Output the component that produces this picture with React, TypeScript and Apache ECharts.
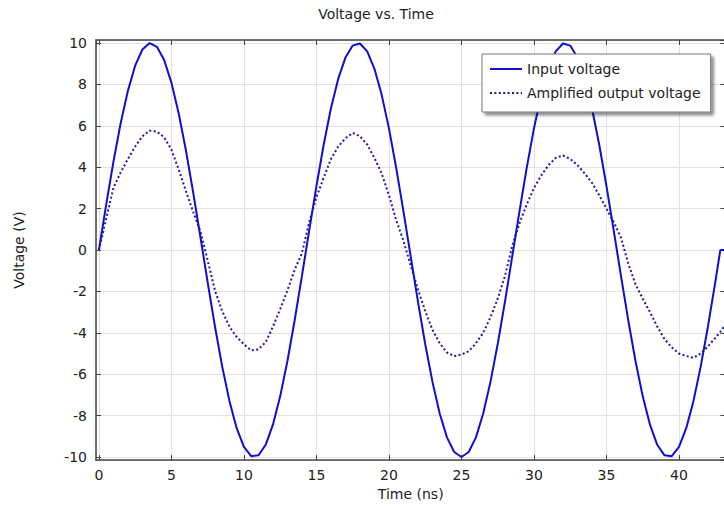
import React, { useEffect, useRef } from 'react';
import * as echarts from 'echarts';

const timeNs = [
  0, 0.5, 1, 1.5, 2, 2.5, 3, 3.5, 4, 4.5, 5, 5.5, 6, 6.5, 7, 7.5, 8, 8.5, 9, 9.5,
  10, 10.5, 11, 11.5, 12, 12.5, 13, 13.5, 14, 14.5, 15, 15.5, 16, 16.5, 17, 17.5, 18, 18.5, 19, 19.5,
  20, 20.5, 21, 21.5, 22, 22.5, 23, 23.5, 24, 24.5, 25, 25.5, 26, 26.5, 27, 27.5, 28, 28.5, 29, 29.5,
  30, 30.5, 31, 31.5, 32, 32.5, 33, 33.5, 34, 34.5, 35, 35.5, 36, 36.5, 37, 37.5, 38, 38.5, 39, 39.5,
  40, 40.5, 41, 41.5, 42, 42.5, 42.85, 43.2,
];

const inputVoltage = [
  0, 2.18, 4.26, 6.13, 7.7, 8.91, 9.69, 10.0, 9.82, 9.18, 8.09, 6.61, 4.82, 2.79, 0.63, -1.56, -3.68, -5.62, -7.29, -8.61,
  -9.51, -9.96, -9.92, -9.41, -8.44, -7.07, -5.36, -3.39, -1.25, 0.94, 3.09, 5.09, 6.85, 8.27, 9.3, 9.88, 9.98, 9.6, 8.76, 7.5,
  5.88, 3.97, 1.87, -0.31, -2.49, -4.54, -6.37, -7.9, -9.05, -9.76, -10.0, -9.76, -9.05, -7.9, -6.37, -4.54, -2.49, -0.31, 1.87, 3.97,
  5.88, 7.5, 8.76, 9.6, 9.98, 9.88, 9.3, 8.27, 6.85, 5.09, 3.09, 0.94, -1.25, -3.39, -5.36, -7.07, -8.44, -9.41, -9.92, -9.96,
  -9.51, -8.61, -7.29, -5.62, -3.68, -1.56, 0, 0,
];

const outputVoltage = [
  0, 1.5, 3.0, 3.75, 4.4, 5.0, 5.5, 5.77, 5.72, 5.45, 4.85, 3.9, 2.85, 1.85, 0.9, -0.5, -1.95, -2.95, -3.7, -4.2,
  -4.55, -4.85, -4.8, -4.45, -3.7, -2.85, -1.95, -0.95, -0.15, 1.35, 2.55, 3.5, 4.4, 5.0, 5.4, 5.66, 5.5, 5.1, 4.45, 3.7,
  2.65, 1.45, 0.45, -0.75, -1.9, -2.95, -3.85, -4.5, -4.95, -5.13, -5.05, -4.89, -4.5, -4.0, -3.25, -2.35, -1.25, 0.2, 1.3, 2.2,
  3.0, 3.6, 4.1, 4.45, 4.57, 4.4, 4.1, 3.7, 3.25, 2.65, 2.0, 1.35, 0.6, -0.65, -1.65, -2.35, -3.0, -3.7, -4.3, -4.7,
  -5.0, -5.12, -5.21, -5.0, -4.65, -4.25, -3.95, -3.6,
];

const seriesNames = ['Input voltage', 'Amplified output voltage'];
const chartTitle = 'Voltage vs. Time';
const xAxisName = 'Time (ns)';
const yAxisName = 'Voltage (V)';

const FONT = 'DejaVu Sans';
const FS = 14;

export default function App() {
  const ref = useRef<HTMLDivElement>(null);

  useEffect(() => {
    if (!ref.current) return;
    const chart = echarts.init(ref.current, undefined, { renderer: 'svg' });

    const inputData = timeNs.map((t, i) => [t, inputVoltage[i]]);
    const outputData = timeNs.map((t, i) => [t, outputVoltage[i]]);

    const axisLineStyle = { color: '#444', width: 1.5 };
    const tickCommon = { show: true, inside: true, length: 5, lineStyle: { color: '#444', width: 1 } };

    const xBase = {
      type: 'value' as const,
      min: -0.2,
      max: 43.2,
      minInterval: 5,
      maxInterval: 5,
      splitNumber: 9,
      axisLine: { show: true, onZero: false, lineStyle: axisLineStyle },
      axisTick: tickCommon,
    };
    const yBase = {
      type: 'value' as const,
      min: -10.15,
      max: 10.15,
      minInterval: 2,
      maxInterval: 2,
      splitNumber: 10,
      axisLine: { show: true, onZero: false, lineStyle: axisLineStyle },
      axisTick: tickCommon,
    };

    chart.setOption({
      animation: false,
      backgroundColor: '#ffffff',
      title: {
        text: chartTitle,
        left: 371,
        top: 2,
        textAlign: 'center',
        textStyle: { fontFamily: FONT, fontSize: FS, fontWeight: 'normal', color: '#222' },
      },
      legend: {
        orient: 'vertical',
        left: 482,
        top: 54,
        padding: [8, 10, 12, 7],
        itemWidth: 32,
        itemHeight: 14,
        itemGap: 10,
        backgroundColor: '#ffffff',
        borderColor: '#777',
        borderWidth: 1,
        shadowColor: 'rgba(0,0,0,0.45)',
        shadowBlur: 3,
        shadowOffsetX: 3,
        shadowOffsetY: 3,
        itemStyle: { color: 'transparent', borderWidth: 0, opacity: 0 },
        textStyle: { fontFamily: FONT, fontSize: FS, color: '#222' },
        data: seriesNames,
      },
      grid: { left: 96, right: 4.6, top: 40, bottom: 42, containLabel: false },
      xAxis: [
        {
          ...xBase,
          position: 'bottom',
          name: xAxisName,
          nameLocation: 'middle',
          nameGap: 24,
          nameTextStyle: { fontFamily: FONT, fontSize: FS, color: '#222' },
          axisLabel: {
            show: true,
            margin: 8,
            fontFamily: FONT,
            fontSize: FS,
            color: '#222',
            showMinLabel: false,
            showMaxLabel: false,
          },
          splitLine: { show: true, lineStyle: { color: '#e2e2e2', width: 1 } },
        },
        {
          ...xBase,
          position: 'top',
          axisLabel: { show: false },
          splitLine: { show: false },
        },
      ],
      yAxis: [
        {
          ...yBase,
          position: 'left',
          name: yAxisName,
          nameLocation: 'middle',
          nameGap: 70,
          nameTextStyle: { fontFamily: FONT, fontSize: FS, color: '#222' },
          axisLabel: {
            show: true,
            margin: 9,
            fontFamily: FONT,
            fontSize: FS,
            color: '#222',
            showMinLabel: false,
            showMaxLabel: false,
          },
          splitLine: { show: true, lineStyle: { color: '#e2e2e2', width: 1 } },
        },
        {
          ...yBase,
          position: 'right',
          axisLabel: { show: false },
          splitLine: { show: false },
        },
      ],
      series: [
        {
          name: seriesNames[0],
          type: 'line',
          data: inputData,
          showSymbol: false,
          symbol: 'none',
          clip: true,
          lineStyle: { color: '#1010cc', width: 2, type: 'solid' },
          itemStyle: { color: '#1010cc' },
        },
        {
          name: seriesNames[1],
          type: 'line',
          data: outputData,
          showSymbol: false,
          symbol: 'none',
          clip: true,
          lineStyle: { color: '#1a1aa8', width: 2, type: [2, 2.4] },
          itemStyle: { color: '#1a1aa8' },
        },
      ],
    });

    return () => chart.dispose();
  }, []);

  return (
    <div
      ref={ref}
      style={{ position: 'fixed', left: 0, top: 0, width: 730, height: 506 }}
    />
  );
}
